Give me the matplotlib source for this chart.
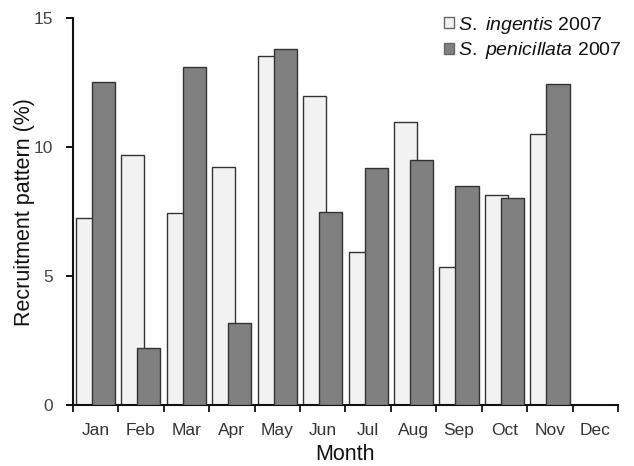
import matplotlib
matplotlib.use("Agg")
import matplotlib.pyplot as plt
import numpy as np

plt.rcParams['font.family'] = ['Liberation Sans', 'DejaVu Sans']
plt.rcParams['mathtext.fontset'] = 'custom'
plt.rcParams['mathtext.rm'] = 'Liberation Sans'
plt.rcParams['mathtext.it'] = 'Liberation Sans:italic'

months = ["Jan", "Feb", "Mar", "Apr", "May", "Jun", "Jul", "Aug", "Sep", "Oct", "Nov", "Dec"]
ingentis = [7.24, 9.69, 7.45, 9.24, 13.53, 11.98, 5.94, 10.96, 5.36, 8.14, 10.5, 0]
penicillata = [12.53, 2.2, 13.11, 3.19, 13.8, 7.47, 9.19, 9.5, 8.51, 8.04, 12.45, 0]
yticks = [0, 5, 10, 15]

fig = plt.figure(figsize=(6.34, 4.66), dpi=100)
ax = fig.add_axes([0.1147, 0.1309, 0.975 - 0.1147, 0.9607 - 0.1309])

centers = np.arange(len(months)) + 0.5
w = 0.51
off = 0.176
ax.bar(centers - off, ingentis, width=w, color="#f2f2f2", edgecolor="#333333",
       linewidth=1.0, label="$\\it{S.\\ ingentis}$ 2007", zorder=2)
ax.bar(centers + off, penicillata, width=w, color="#808080", edgecolor="#333333",
       linewidth=1.0, label="$\\it{S.\\ penicillata}$ 2007", zorder=3)

ax.set_xlim(0, 12)
ax.set_ylim(0, 15)
ax.set_yticks(yticks)
ax.set_xticks(np.arange(0, 13))
ax.set_xticklabels([])
ax.set_xticks(centers, minor=True)
ax.set_xticklabels(months, minor=True)
ax.tick_params(axis='x', which='minor', length=0, pad=13, labelsize=12.5, labelcolor="#333333")
ax.tick_params(axis='x', which='major', length=5, width=1.3, direction='out', color="#111111")
ax.tick_params(axis='y', length=5, width=1.3, direction='out', labelsize=12.5, labelcolor="#444444", pad=9)

for s in ['top', 'right']:
    ax.spines[s].set_visible(False)
for s in ['left', 'bottom']:
    ax.spines[s].set_linewidth(1.5)
    ax.spines[s].set_color("#111111")

ax.set_ylabel("Recruitment pattern (%)", fontsize=15.5, color="#111111", labelpad=-1)
ax.set_xlabel("Month", fontsize=15.5, color="#111111", labelpad=4)

leg = ax.legend(loc='upper right', bbox_to_anchor=(1.027, 1.04), frameon=False, fontsize=14,
                handlelength=0.5, handleheight=0.5, handletextpad=0.2, labelspacing=0.25,
                borderaxespad=0.2)
for h in leg.legend_handles:
    h.set_edgecolor("#666666")
for t in leg.get_texts():
    t.set_color("#111111")

fig.savefig("out.png", dpi=100, facecolor="white")
